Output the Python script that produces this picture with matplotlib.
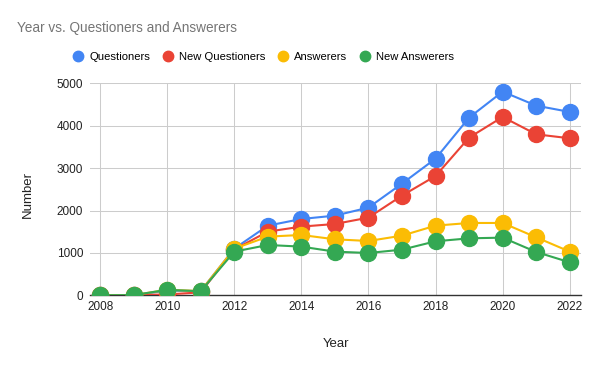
import matplotlib.pyplot as plt

years = list(range(2008, 2023))
questioners = [2, 5, 110, 100, 1100, 1643, 1800, 1879, 2068, 2634, 3223, 4190, 4803, 4473, 4324]
new_questioners = [2, 5, 20, 70, 1080, 1502, 1620, 1682, 1832, 2351, 2814, 3719, 4206, 3797, 3703]
answerers = [2, 5, 130, 100, 1100, 1384, 1423, 1321, 1281, 1407, 1643, 1706, 1706, 1368, 1030]
new_answerers = [2, 5, 130, 95, 1030, 1187, 1148, 1030, 998, 1077, 1274, 1344, 1360, 1022, 778]

series = [('Questioners', questioners, '#4285F4'),
          ('New Questioners', new_questioners, '#EA4335'),
          ('Answerers', answerers, '#FBBC04'),
          ('New Answerers', new_answerers, '#34A853')]

plt.rcParams['font.family'] = ['Liberation Sans', 'DejaVu Sans']

fig = plt.figure(figsize=(6, 3.71), dpi=100)
ax = fig.add_axes([0.15, 0.204, 0.818, 0.5715])

for name, vals, col in series:
    ax.plot(years, vals, color=col, lw=1.5, marker='o', markersize=11.5,
            label=name, zorder=3)

ax.set_xlim(2007.70, 2022.33)
ax.set_ylim(0, 5000)
ax.set_xticks(range(2008, 2023, 2))
ax.set_yticks(range(0, 5001, 1000))
ax.grid(True, color='#cccccc', lw=0.75, zorder=0)
for s in ['top', 'right', 'left']:
    ax.spines[s].set_visible(False)
ax.spines['bottom'].set_color('#333333')
ax.spines['bottom'].set_linewidth(1.0)
ax.spines['bottom'].set_zorder(2)
ax.tick_params(length=0, labelsize=8.5, labelcolor='#222222')
ax.tick_params(axis='y', pad=5)
ax.tick_params(axis='x', pad=4)

fig.text(0.028, 0.925, 'Year vs. Questioners and Answerers', fontsize=9.8,
         color='#757575', va='center', ha='left')
fig.text(336 / 600, 1 - 344 / 371, 'Year', fontsize=9.5, color='#222222',
         ha='center', va='center')
fig.text(28 / 600, 1 - 195 / 371, 'Number', fontsize=9.5, color='#222222',
         ha='center', va='center', rotation=90)

leg = fig.legend(loc='center', bbox_to_anchor=(0.44, 1 - 57 / 371), ncol=4,
                 frameon=False, fontsize=8.1, handlelength=0.7,
                 handletextpad=0.6, columnspacing=1.25)
for h in leg.legend_handles:
    h.set_linestyle('none')
    h.set_markersize(7.5)

fig.savefig('out.png', dpi=100)
